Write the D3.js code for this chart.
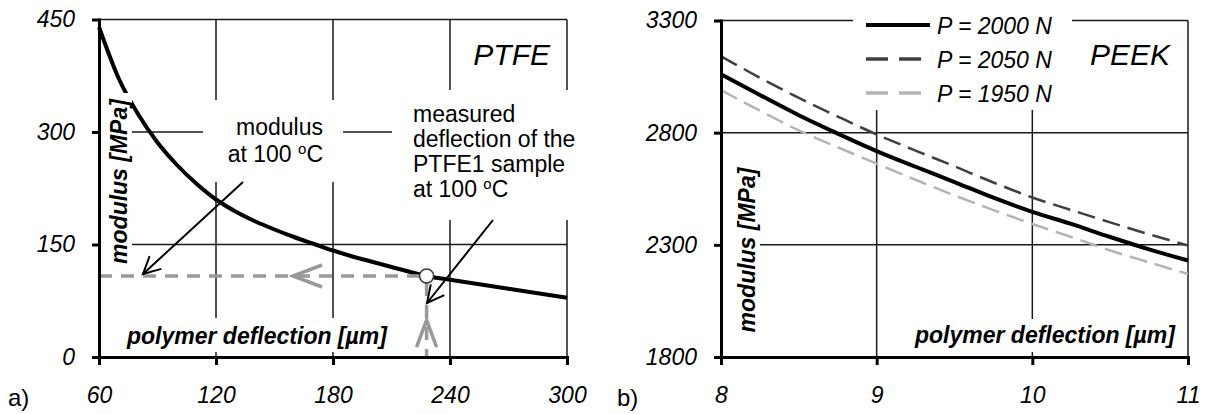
<!DOCTYPE html>
<html><head><meta charset="utf-8">
<script src="https://cdn.jsdelivr.net/npm/d3@7"></script>
<style>
body{margin:0;background:#fff}
svg{display:block}
text{font-family:"Liberation Sans",Arial,sans-serif;fill:#000}
</style>
</head><body>
<svg id="c" width="1208" height="414"></svg>
<script>
// ---------- data ----------
const ptfeDeflection = [60,70,80,90,100,110,120,130,140,150,160,170,180,190,200,210,220,230,240,250,260,270,280,290,300];
const ptfeModulus    = [440,372,324,286,256,231,210,194,181,170,160,151,142,134,127,120,113,107,103,99,95,91,87,83,79];
const ptfeXTicks = [60,120,180,240,300];
const ptfeYTicks = [0,150,300,450];
const measuredDeflection = 228;
const measuredModulus = 108;

const peekDeflection = [8,8.25,8.5,8.75,9,9.25,9.5,9.75,10,10.25,10.5,10.75,11];
const peek2000 = [3060,2968,2878,2796,2718,2648,2580,2510,2447,2393,2335,2280,2230];
const peek2050 = [3140,3045,2955,2872,2792,2720,2650,2578,2511,2455,2400,2347,2297];
const peek1950 = [2990,2898,2810,2735,2662,2590,2520,2455,2393,2335,2275,2222,2170];
const peekXTicks = [8,9,10,11];
const peekYTicks = [1800,2300,2800,3300];
const legendLabels = ["P = 2000 N","P = 2050 N","P = 1950 N"];

// ---------- setup ----------
const svg = d3.select("#c");
const GRID = "#1a1a1a";
const fmt = d3.format("d");

function styleAxis(g){
  g.selectAll(".domain").attr("stroke","#000").attr("stroke-width",3).attr("stroke-linecap","square");
  g.selectAll(".tick line").attr("stroke","#000").attr("stroke-width",3);
  g.selectAll(".tick text").attr("font-size",23).attr("font-style","italic")
    .attr("font-family","'Liberation Sans',Arial,sans-serif").attr("fill","#000");
}
function arrow(g,x1,y1,x2,y2){
  g.append("line").attr("x1",x1).attr("y1",y1).attr("x2",x2).attr("y2",y2)
    .attr("stroke","#000").attr("stroke-width",2);
  const a = Math.atan2(y1-y2,x1-x2), L=19, h=27*Math.PI/180;
  const p1=[x2+L*Math.cos(a+h),y2+L*Math.sin(a+h)], p2=[x2+L*Math.cos(a-h),y2+L*Math.sin(a-h)];
  g.append("path").attr("d",`M${p1}L${x2},${y2}L${p2}`).attr("fill","none")
    .attr("stroke","#000").attr("stroke-width",2);
}
function degText(g,x,y,anchor){
  const t=g.append("text").attr("x",x).attr("y",y).attr("text-anchor",anchor).attr("font-size",23);
  t.append("tspan").text("at 100 ");
  t.append("tspan").attr("font-size",15).attr("dy",-8).text("o");
  t.append("tspan").attr("dy",8).text("C");
}
function whiteBox(g,x,y,w,h){ g.append("rect").attr("x",x).attr("y",y).attr("width",w).attr("height",h).attr("fill","#fff"); }

// ---------- panel a (PTFE) ----------
const xA = d3.scaleLinear().domain([60,300]).range([99,567]);
const yA = d3.scaleLinear().domain([0,450]).range([357,19.5]);
const gA = svg.append("g");

gA.selectAll(".vg").data(ptfeXTicks.slice(1)).join("line").attr("class","vg")
  .attr("x1",d=>xA(d)).attr("x2",d=>xA(d)).attr("y1",yA(0)).attr("y2",yA(450))
  .attr("stroke",GRID).attr("stroke-width",1.5);
gA.selectAll(".hg").data(ptfeYTicks.slice(1)).join("line").attr("class","hg")
  .attr("x1",xA(60)).attr("x2",xA(300)).attr("y1",d=>yA(d)).attr("y2",d=>yA(d))
  .attr("stroke",GRID).attr("stroke-width",1.5);

const ptfePts = ptfeDeflection.map((d,i)=>[d,ptfeModulus[i]]);
gA.append("path").datum(ptfePts)
  .attr("d",d3.line().x(d=>xA(d[0])).y(d=>yA(d[1])).curve(d3.curveMonotoneX))
  .attr("fill","none").attr("stroke","#000").attr("stroke-width",4);

// gray construction lines
const mx = xA(measuredDeflection), my = yA(measuredModulus);
gA.append("line").attr("x1",xA(60)).attr("x2",mx-7).attr("y1",my).attr("y2",my)
  .attr("stroke","#999").attr("stroke-width",3.5).attr("stroke-dasharray","13,9");
gA.append("line").attr("x1",mx).attr("x2",mx).attr("y1",my+7).attr("y2",yA(0))
  .attr("stroke","#999").attr("stroke-width",3.5).attr("stroke-dasharray","13,9");
const chx = xA(159.5);
gA.append("path").attr("d",`M${chx+29},${my-11}L${chx},${my}L${chx+29},${my+11}`)
  .attr("fill","none").attr("stroke","#999").attr("stroke-width",3.5);
const chy = yA(49.3);
gA.append("path").attr("d",`M${mx-10},${chy+27}L${mx},${chy}L${mx+10},${chy+27}`)
  .attr("fill","none").attr("stroke","#999").attr("stroke-width",3.5);
gA.append("circle").attr("cx",mx).attr("cy",my).attr("r",7)
  .attr("fill","#fff").attr("stroke","#333").attr("stroke-width",1.5);

// white label boxes
whiteBox(gA,101,93,31,179);          // y label
whiteBox(gA,124,318,267,34);         // x label
whiteBox(gA,203,100,140,82);         // modulus note
whiteBox(gA,392,90,198,130);         // measured note

gA.append("text").attr("transform","translate(127,181.5) rotate(-90)").attr("text-anchor","middle")
  .attr("font-size",23).attr("font-weight","bold").attr("font-style","italic").text("modulus [MPa]");
gA.append("text").attr("x",127).attr("y",344).attr("font-size",23).attr("font-weight","bold")
  .attr("font-style","italic").text("polymer deflection [µm]");
gA.append("text").attr("x",550).attr("y",65).attr("text-anchor","end").attr("font-size",30)
  .attr("font-style","italic").text("PTFE");

gA.append("text").attr("x",323).attr("y",135).attr("text-anchor","end").attr("font-size",23).text("modulus");
degText(gA,323,161.7,"end");
const noteLines = ["measured","deflection of the","PTFE1 sample"];
noteLines.forEach((s,i)=>gA.append("text").attr("x",413).attr("y",122+i*25).attr("font-size",23).text(s));
degText(gA,413,122+3*25,"start");

arrow(gA,243,182,143,274);
arrow(gA,493,220,427,303);

const axA = gA.append("g").attr("transform",`translate(0,${yA(0)})`)
  .call(d3.axisBottom(xA).tickValues(ptfeXTicks).tickFormat(fmt).tickSize(8).tickPadding(22).tickSizeOuter(0));
styleAxis(axA);
const ayA = gA.append("g").attr("transform",`translate(${xA(60)},0)`)
  .call(d3.axisLeft(yA).tickValues(ptfeYTicks).tickFormat(fmt).tickSize(7).tickPadding(17).tickSizeOuter(0));
styleAxis(ayA);
gA.append("text").attr("x",8).attr("y",406).attr("font-size",24).text("a)");

// ---------- panel b (PEEK) ----------
const xB = d3.scaleLinear().domain([8,11]).range([721,1188]);
const yB = d3.scaleLinear().domain([1800,3300]).range([357,20.5]);
const gB = svg.append("g");

gB.selectAll(".vg").data(peekXTicks.slice(1)).join("line").attr("class","vg")
  .attr("x1",d=>xB(d)).attr("x2",d=>xB(d)).attr("y1",yB(1800)).attr("y2",yB(3300))
  .attr("stroke",GRID).attr("stroke-width",1.5);
gB.selectAll(".hg").data(peekYTicks.slice(1)).join("line").attr("class","hg")
  .attr("x1",xB(8)).attr("x2",xB(11)).attr("y1",d=>yB(d)).attr("y2",d=>yB(d))
  .attr("stroke",GRID).attr("stroke-width",1.5);

const series = [
  {vals:peek2000, color:"#000",    width:4,   dash:null,    lw:4,   ldash:null},
  {vals:peek2050, color:"#404040", width:2.5, dash:"18,8",  lw:3.5, ldash:"22,11"},
  {vals:peek1950, color:"#b4b4b4", width:2.5, dash:"18,8",  lw:3.5, ldash:"22,11"}
];
const lineB = d3.line().x(d=>xB(d[0])).y(d=>yB(d[1])).curve(d3.curveMonotoneX);
series.slice().reverse().forEach(s=>{
  gB.append("path").datum(peekDeflection.map((d,i)=>[d,s.vals[i]])).attr("d",lineB)
    .attr("fill","none").attr("stroke",s.color).attr("stroke-width",s.width)
    .attr("stroke-dasharray",s.dash);
});

whiteBox(gB,853,0,219,110);          // legend
whiteBox(gB,723,158,37,186);         // y label
whiteBox(gB,911,319,270,33);         // x label

series.forEach((s,i)=>{
  const y = 25 + i*34;
  gB.append("line").attr("x1",866).attr("x2",930).attr("y1",y).attr("y2",y)
    .attr("stroke",s.color).attr("stroke-width",s.lw).attr("stroke-dasharray",s.ldash);
  gB.append("text").attr("x",937).attr("y",y+8.5).attr("font-size",23).attr("font-style","italic").text(legendLabels[i]);
});

gB.append("text").attr("transform","translate(755,250) rotate(-90)").attr("text-anchor","middle")
  .attr("font-size",23).attr("font-weight","bold").attr("font-style","italic").text("modulus [MPa]");
gB.append("text").attr("x",915).attr("y",343).attr("font-size",23).attr("font-weight","bold")
  .attr("font-style","italic").text("polymer deflection [µm]");
gB.append("text").attr("x",1170).attr("y",65).attr("text-anchor","end").attr("font-size",30)
  .attr("font-style","italic").text("PEEK");

const axB = gB.append("g").attr("transform",`translate(0,${yB(1800)})`)
  .call(d3.axisBottom(xB).tickValues(peekXTicks).tickFormat(fmt).tickSize(8).tickPadding(22).tickSizeOuter(0));
styleAxis(axB);
const ayB = gB.append("g").attr("transform",`translate(${xB(8)},0)`)
  .call(d3.axisLeft(yB).tickValues(peekYTicks).tickFormat(fmt).tickSize(7).tickPadding(17).tickSizeOuter(0));
styleAxis(ayB);
gB.append("text").attr("x",617).attr("y",406).attr("font-size",24).text("b)");
</script>
</body></html>
